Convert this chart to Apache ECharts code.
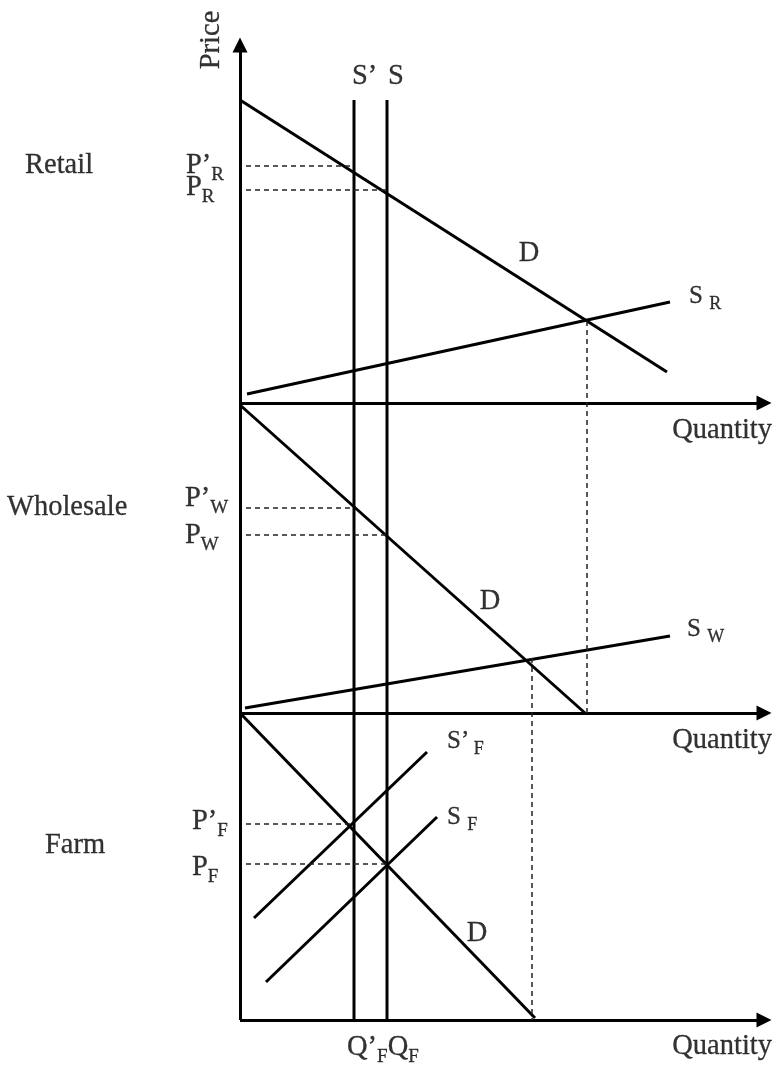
<!DOCTYPE html>
<html>
<head>
<meta charset="utf-8">
<script src="https://cdn.jsdelivr.net/npm/echarts@6/dist/echarts.min.js"></script>
<style>
html, body { margin: 0; padding: 0; background: #fff; }
#chart { width: 775px; height: 1067px; }
</style>
</head>
<body>
<div id="chart"></div>
<script>
// quantity on x, price on y, origin at the farm axis
const retailDemand = [[0, 920], [427, 648]]
const retailSupply = [[7, 626], [430, 718]]
const wholesaleDemand = [[0, 615], [345, 307]]
const wholesaleSupply = [[5, 312], [430, 384]]
const farmDemand = [[0, 307], [295, 2]]
const farmSupplyNew = [[14, 102], [187, 268]] // S'F
const farmSupply = [[26, 38], [197, 203]] // SF
const fixedSupplyNew = [[114, 0], [114, 920]] // S'
const fixedSupply = [[147, 0], [147, 920]] // S

const quantityAxes = [617, 307, 0] // retail, wholesale, farm
const priceTop = 975
const quantityEnd = 524

// dashed price levels: P'R, PR, P'W, PW, P'F, PF
const priceLevels = [854, 830, 512, 485, 196, 156]
const priceQty = [114, 147, 114, 147, 114, 147]
// equilibrium drop lines [q, from, to]
const retailEq = [347, 699, 307]
const wholesaleEq = [292, 362, 0]

// [x, y, text, align, rotate]
const annotations = [
  [-28, 980, 'Price', 'center', 90],
  [112, 943, 'S’', 'left'],
  [148, 943, 'S', 'left'],
  [-215, 854, 'Retail', 'left'],
  [-54, 854, 'P’{s|R}', 'left'],
  [-54, 832, 'P{s|R}', 'left'],
  [289, 766, 'D', 'center'],
  [449, 724, '{m|S }{t|R}', 'left'],
  [532, 589, 'Quantity', 'right'],
  [-233, 512, 'Wholesale', 'left'],
  [-55, 521, 'P’{s|W}', 'left'],
  [-55, 484, 'P{s|W}', 'left'],
  [250, 418, 'D', 'center'],
  [447, 391, '{m|S }{t|W}', 'left'],
  [532, 279, 'Quantity', 'right'],
  [-195, 174, 'Farm', 'left'],
  [207, 279, '{m|S’}{t| F}', 'left'],
  [207, 203, '{m|S }{t|F}', 'left'],
  [-48, 198, 'P’{s|F}', 'left'],
  [-48, 152, 'P{s|F}', 'left'],
  [237, 86, 'D', 'center'],
  [107, -28, 'Q’{s|F}Q{s|F}', 'left'],
  [532, -27, 'Quantity', 'right']
]

const chart = echarts.init(document.getElementById('chart'))

function seg (data) {
  return {
    type: 'line',
    data: data,
    symbol: 'none',
    silent: true,
    lineStyle: { color: '#000', width: 3 }
  }
}

const axisLines = [[{ coord: [0, 0] }, { coord: [0, priceTop] }]]
quantityAxes.forEach(y => {
  axisLines.push([{ coord: [0, y] }, { coord: [quantityEnd, y] }])
})

const dashLines = priceLevels.map((y, i) => [{ coord: [6, y] }, { coord: [priceQty[i], y] }])
dashLines.push([{ coord: [retailEq[0], retailEq[1]] }, { coord: [retailEq[0], retailEq[2]] }])
dashLines.push([{ coord: [wholesaleEq[0], wholesaleEq[1]] }, { coord: [wholesaleEq[0], wholesaleEq[2]] }])

const ink = { color: '#000', fontFamily: 'Liberation Serif', textBorderColor: '#000', textBorderWidth: 0.3 }

chart.setOption({
  animation: false,
  textStyle: { fontFamily: 'Liberation Serif' },
  grid: { left: 0, right: 0, top: 0, bottom: 0 },
  xAxis: { type: 'value', min: -240, max: 535, show: false },
  yAxis: { type: 'value', min: -47, max: 1020, show: false },
  series: [
    seg(retailDemand),
    seg(retailSupply),
    seg(wholesaleDemand),
    seg(wholesaleSupply),
    seg(farmDemand),
    seg(farmSupplyNew),
    seg(farmSupply),
    seg(fixedSupplyNew),
    seg(fixedSupply),
    {
      type: 'line',
      data: [],
      silent: true,
      markLine: {
        silent: true,
        symbol: ['none', 'triangle'],
        symbolSize: 15,
        label: { show: false },
        lineStyle: { color: '#000', width: 3, type: 'solid' },
        data: axisLines
      }
    },
    {
      type: 'line',
      data: [],
      silent: true,
      markLine: {
        silent: true,
        symbol: ['none', 'none'],
        label: { show: false },
        lineStyle: { color: '#222', width: 1.5, type: [5, 4] },
        data: dashLines
      }
    },
    {
      type: 'scatter',
      symbolSize: 0,
      silent: true,
      data: annotations.map(a => ({
        value: [a[0], a[1]],
        name: a[2],
        label: { align: a[3], rotate: a[4] || 0 }
      })),
      label: Object.assign({
        show: true,
        position: 'inside',
        formatter: '{b}',
        fontSize: 28.5,
        rich: {
          s: Object.assign({ fontSize: 19, padding: [18, 0, 0, 0] }, ink),
          m: Object.assign({ fontSize: 25 }, ink),
          t: Object.assign({ fontSize: 18, padding: [16, 0, 0, 0] }, ink)
        }
      }, ink)
    }
  ]
})
</script>
</body>
</html>
